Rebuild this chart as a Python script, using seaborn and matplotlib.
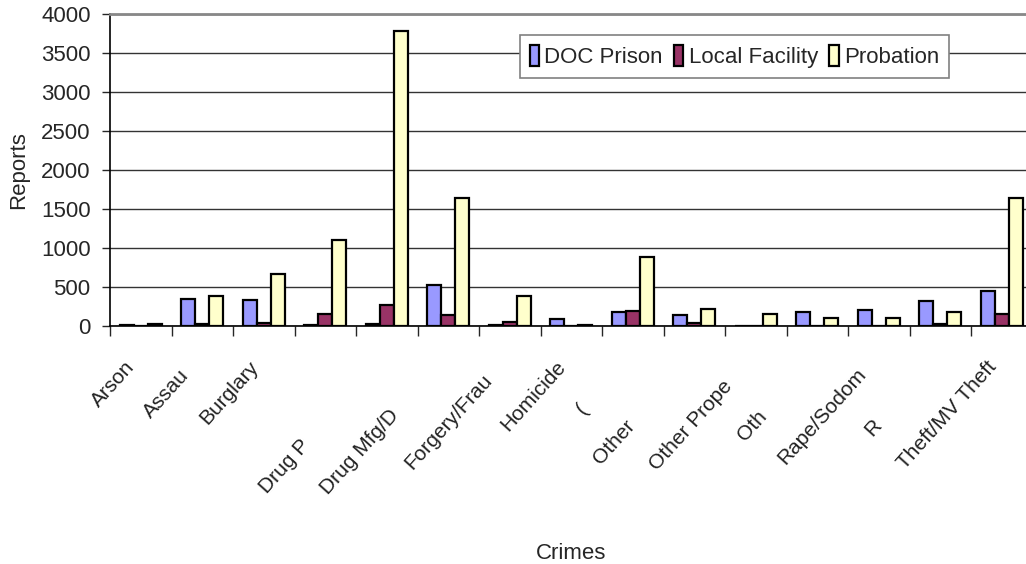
import matplotlib
matplotlib.use("Agg")
import matplotlib.pyplot as plt
import matplotlib.transforms as mtransforms
import numpy as np
import pandas as pd
import seaborn as sns

# Category labels as they show on the chart (long names are cut off)
crimes = ["Arson", "Assau", "Burglary", " ", "Drug P", "Drug Mfg/D", "Forgery/Frau",
          "Homicide", "(", "Other ", "Other Prope", "Oth", "Rape/Sodom", "R",
          "Theft/MV Theft"]
facilities = ["DOC Prison", "Local Facility", "Probation"]

doc_prison = [15, 340, 335, 12, 25, 530, 8, 85, 180, 145, 5, 175, 205, 325, 445]
local_facility = [0, 30, 40, 150, 270, 135, 50, 0, 195, 40, 5, 0, 0, 30, 150]
probation = [25, 388, 670, 1100, 3780, 1640, 390, 12, 885, 220, 155, 100, 102, 175, 1635]

y_ticks = list(range(0, 4001, 500))

# how far each cut label sits down the diagonal (pixels)
label_trim = [0, 8, 0, 0, 71, 44, 12, 0, 39, 50, 18, 45, 7, 53, 0]

df = pd.DataFrame({
    "crime": crimes * 3,
    "facility": np.repeat(facilities, len(crimes)),
    "reports": doc_prison + local_facility + probation,
})

sns.set_style("white")
plt.rcParams["font.family"] = ["Liberation Sans", "DejaVu Sans"]

fig = plt.figure(figsize=(10.26, 5.64), dpi=100)
ax = fig.add_axes([110 / 1026, (564 - 326) / 564, 922.5 / 1026, 312 / 564])

colors = {"DOC Prison": "#9999FF", "Local Facility": "#993366", "Probation": "#FFFFCC"}
sns.barplot(data=df, x="crime", y="reports", hue="facility", order=crimes,
            hue_order=facilities, palette=colors, saturation=1, width=0.68,
            edgecolor="black", linewidth=1.6, errorbar=None, ax=ax)

ax.set_ylim(0, 4000)
ax.set_xlim(-0.5, len(crimes) - 0.5)
ax.set_yticks(y_ticks)
ax.tick_params(axis="y", labelsize=16, length=6, width=1, direction="out", pad=8, left=True)
ax.yaxis.grid(True, color="#333333", linewidth=1)
ax.set_axisbelow(True)

# ticks between groups, labels at group centres
ax.set_xticks(np.arange(-0.5, len(crimes), 1))
ax.set_xticklabels([])
ax.tick_params(axis="x", which="major", length=7, width=1, direction="out", bottom=True)
ax.set_xticks(np.arange(len(crimes)), labels=crimes, minor=True)
ax.tick_params(axis="x", which="minor", length=0, pad=0, labelsize=15, labelcolor="#222222")
for lab, trim in zip(ax.get_xticklabels(minor=True), label_trim):
    lab.set_rotation(48)
    lab.set_rotation_mode("anchor")
    lab.set_ha("right")
    lab.set_va("top")
    off = mtransforms.ScaledTranslation((-16 - trim) / 100, -(31 + 1.11 * trim) / 100,
                                        fig.dpi_scale_trans)
    lab.set_transform(lab.get_transform() + off)

for side in ["left", "bottom"]:
    ax.spines[side].set_color("black")
    ax.spines[side].set_linewidth(1.2)
ax.spines["top"].set_color("#888888")
ax.spines["top"].set_linewidth(2)
ax.spines["right"].set_visible(False)

ax.set_ylabel("Reports", fontsize=16)
ax.yaxis.set_label_coords(-0.088, 0.5)
ax.set_xlabel("Crimes", fontsize=16)
ax.xaxis.set_label_coords(0.5, -0.695)

handles, labels = ax.get_legend_handles_labels()
leg = ax.legend(handles, labels, loc="upper left", bbox_to_anchor=(0.444, 0.933),
                ncol=3, frameon=True, fancybox=False, edgecolor="#808080", fontsize=16,
                handlelength=0.42, handleheight=1.1, handletextpad=0.25,
                columnspacing=0.5, borderpad=0.45, borderaxespad=0)
leg.get_frame().set_linewidth(1.2)
leg.get_frame().set_alpha(1)

fig.savefig("out.png", dpi=100)
